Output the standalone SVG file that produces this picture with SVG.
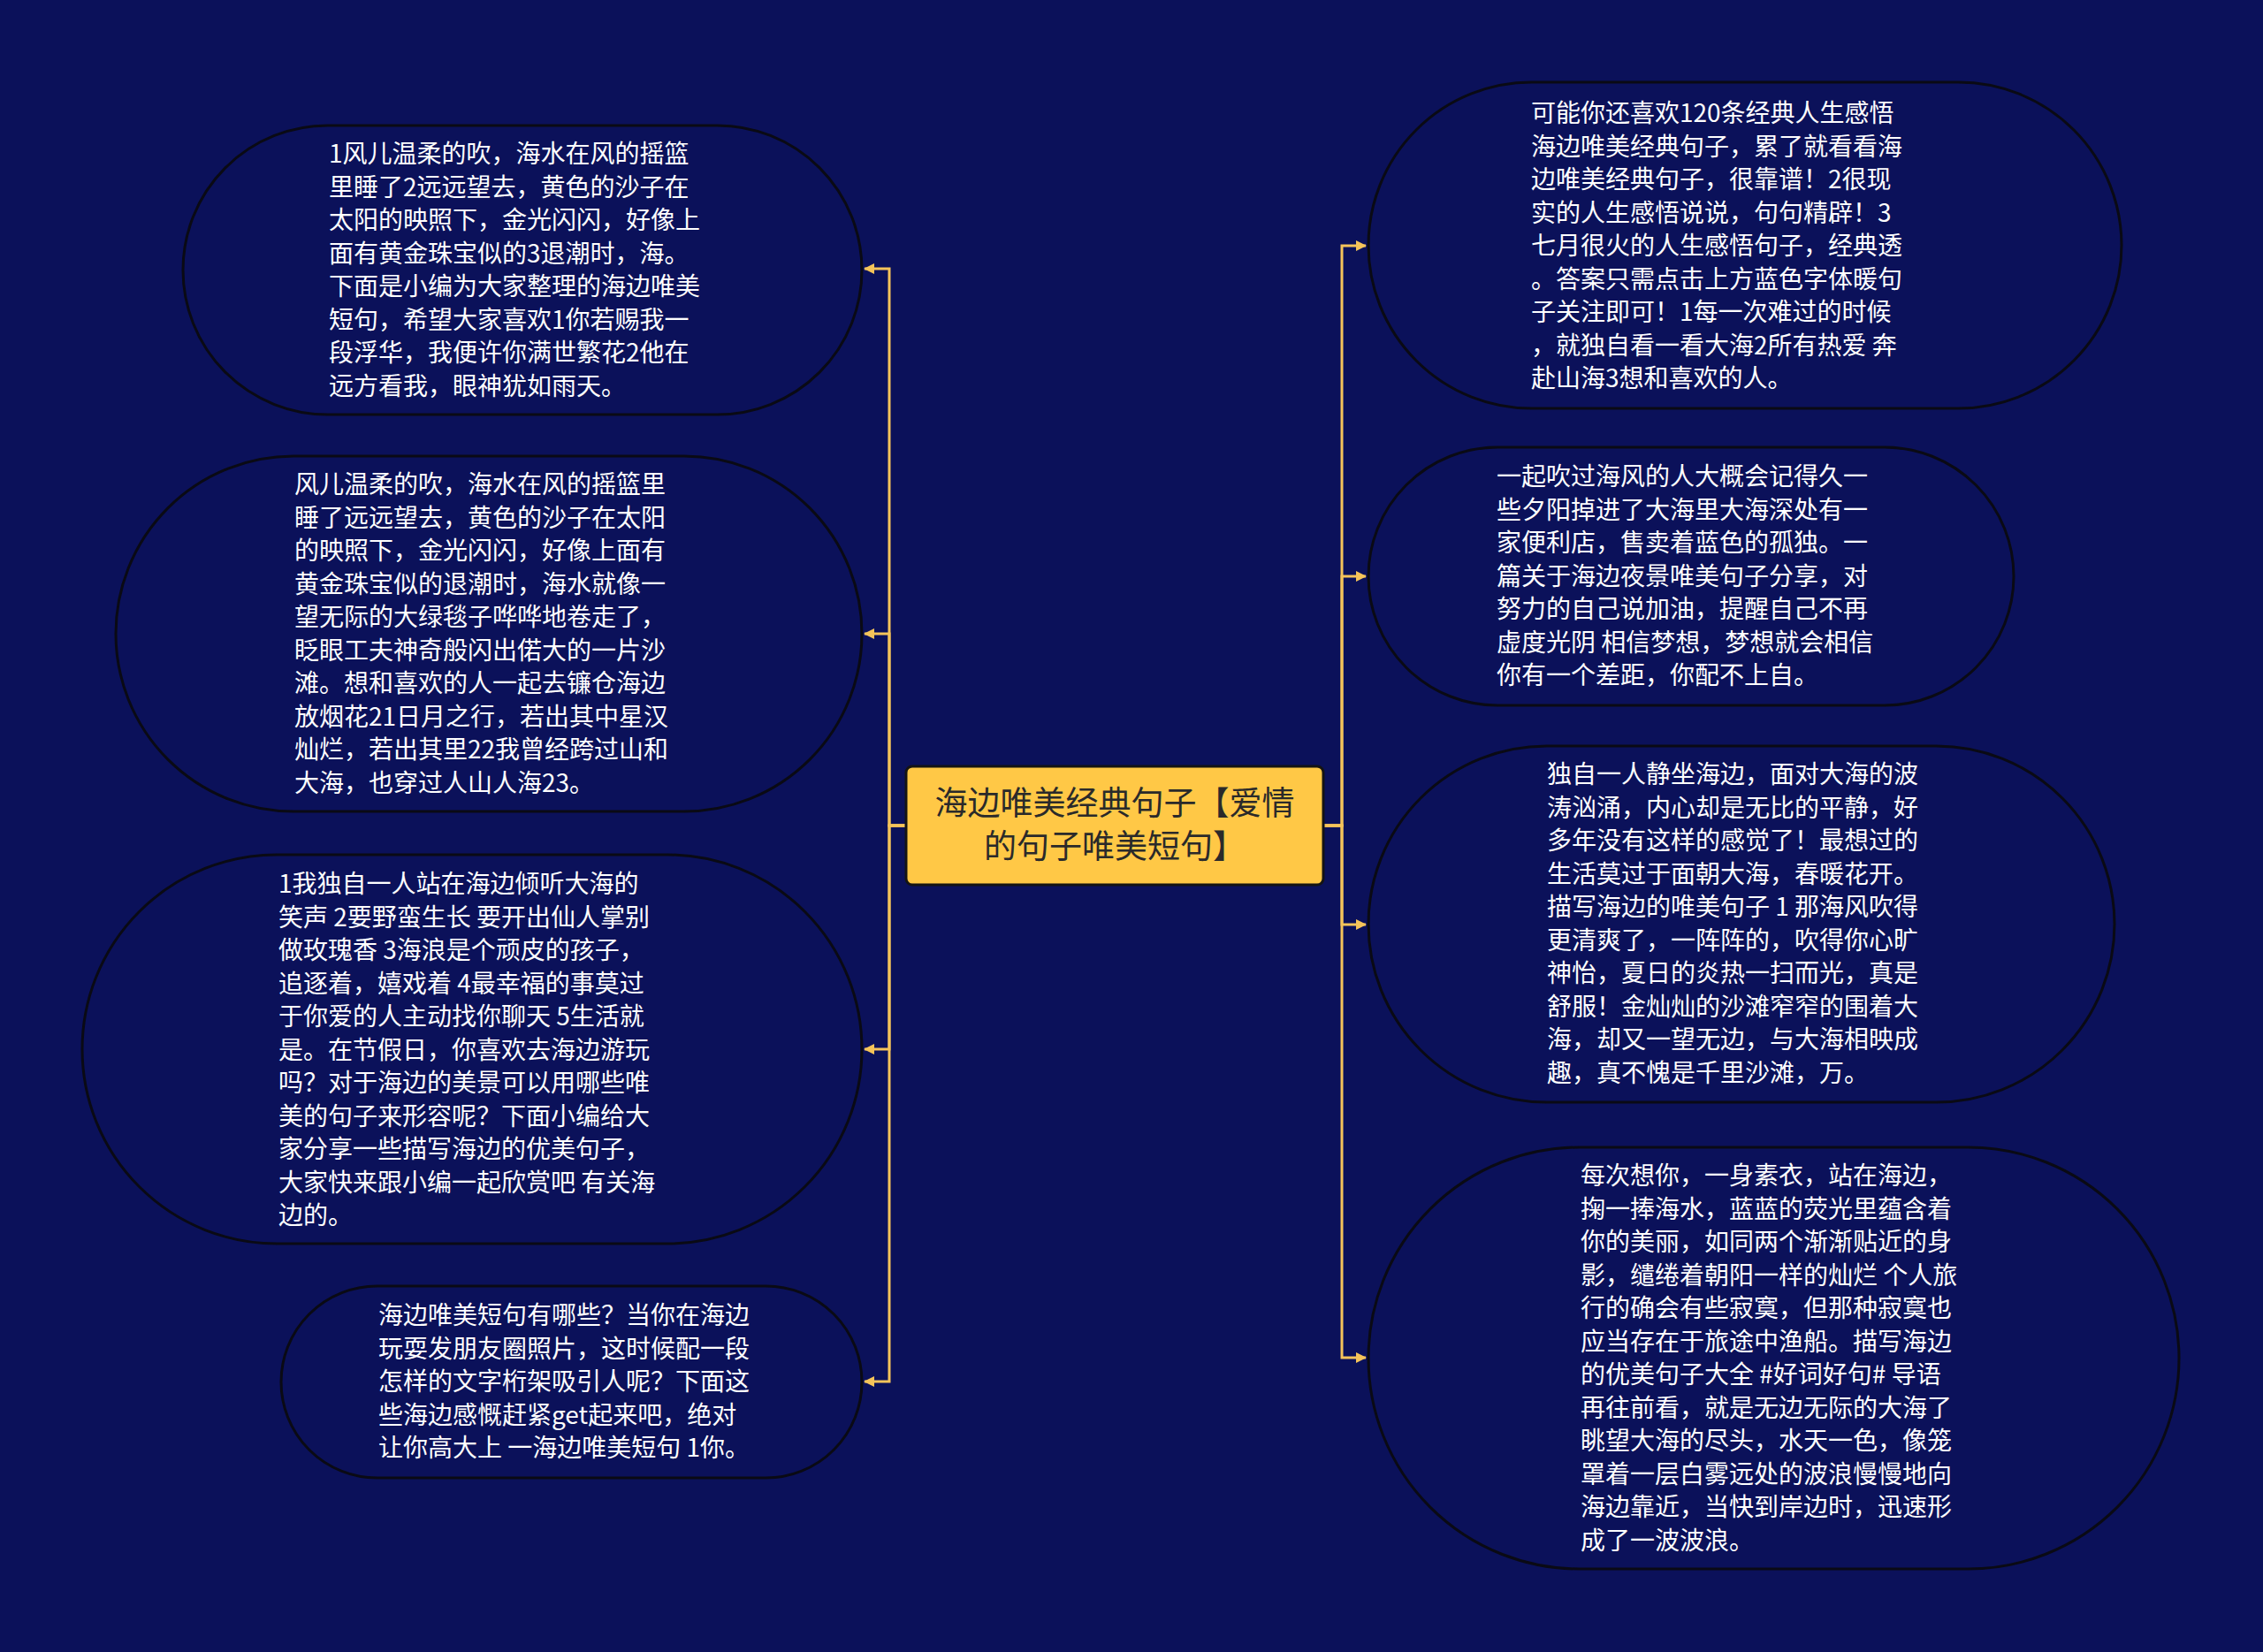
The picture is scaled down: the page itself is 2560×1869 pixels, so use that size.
<svg xmlns="http://www.w3.org/2000/svg" width="2560" height="1869" viewBox="0 0 2560 1869">
  <defs>
    <marker id="arr" markerUnits="userSpaceOnUse" markerWidth="14" markerHeight="14" refX="12" refY="7" orient="auto">
      <path d="M1,1 L13,7 L1,13 Z" fill="#F5C45A"/>
    </marker>
    <style>
      .node { fill: #0b115a; stroke: #0a0a14; stroke-width: 3; }
      .txt { fill: #ffffff; font-family: "Noto Sans CJK SC", "Noto Sans", sans-serif; font-size: 28px; }
      .conn { fill: none; stroke: #F5C45A; stroke-width: 3; marker-end: url(#arr); }
      .root { fill: #FFC846; stroke: #141414; stroke-width: 3; }
      .roottxt { fill: #2a2a2a; font-family: "Noto Sans CJK SC", "Noto Sans", sans-serif; font-size: 37px; text-anchor: middle; }
    </style>
  </defs>
  <rect x="0" y="0" width="2560" height="1869" fill="#0b115a"/>

  <g id="connectors">
    <path class="conn" d="M1025 934 H1006 V304 H978"/>
    <path class="conn" d="M1025 934 H1006 V717 H978"/>
    <path class="conn" d="M1025 934 H1006 V1187 H978"/>
    <path class="conn" d="M1025 934 H1006 V1563 H978"/>
    <path class="conn" d="M1497 934 H1518 V278 H1545"/>
    <path class="conn" d="M1497 934 H1518 V652 H1545"/>
    <path class="conn" d="M1497 934 H1518 V1046 H1545"/>
    <path class="conn" d="M1497 934 H1518 V1536 H1545"/>
  </g>

  <g id="root">
    <rect class="root" x="1025" y="867" width="472" height="134" rx="7"/>
    <text class="roottxt"><tspan x="1261" y="922">海边唯美经典句子【爱情</tspan><tspan x="1261" y="971">的句子唯美短句】</tspan></text>
  </g>

  <g id="node-l1">
    <rect class="node" x="207" y="142" width="768" height="327" rx="163.5"/>
    <text class="txt">
      <tspan x="372" y="184">1风儿温柔的吹，海水在风的摇篮</tspan>
      <tspan x="372" dy="37.5">里睡了2远远望去，黄色的沙子在</tspan>
      <tspan x="372" dy="37.5">太阳的映照下，金光闪闪，好像上</tspan>
      <tspan x="372" dy="37.5">面有黄金珠宝似的3退潮时，海。</tspan>
      <tspan x="372" dy="37.5">下面是小编为大家整理的海边唯美</tspan>
      <tspan x="372" dy="37.5">短句，希望大家喜欢1你若赐我一</tspan>
      <tspan x="372" dy="37.5">段浮华，我便许你满世繁花2他在</tspan>
      <tspan x="372" dy="37.5">远方看我，眼神犹如雨天。</tspan>
    </text>
  </g>

  <g id="node-l2">
    <rect class="node" x="131" y="516" width="844" height="402" rx="201"/>
    <text class="txt">
      <tspan x="333" y="558">风儿温柔的吹，海水在风的摇篮里</tspan>
      <tspan x="333" dy="37.5">睡了远远望去，黄色的沙子在太阳</tspan>
      <tspan x="333" dy="37.5">的映照下，金光闪闪，好像上面有</tspan>
      <tspan x="333" dy="37.5">黄金珠宝似的退潮时，海水就像一</tspan>
      <tspan x="333" dy="37.5">望无际的大绿毯子哗哗地卷走了，</tspan>
      <tspan x="333" dy="37.5">眨眼工夫神奇般闪出偌大的一片沙</tspan>
      <tspan x="333" dy="37.5">滩。想和喜欢的人一起去镰仓海边</tspan>
      <tspan x="333" dy="37.5">放烟花21日月之行，若出其中星汉</tspan>
      <tspan x="333" dy="37.5">灿烂，若出其里22我曾经跨过山和</tspan>
      <tspan x="333" dy="37.5">大海，也穿过人山人海23。</tspan>
    </text>
  </g>

  <g id="node-l3">
    <rect class="node" x="93" y="967" width="882" height="440" rx="220"/>
    <text class="txt">
      <tspan x="315" y="1010">1我独自一人站在海边倾听大海的</tspan>
      <tspan x="315" dy="37.5">笑声 2要野蛮生长 要开出仙人掌别</tspan>
      <tspan x="315" dy="37.5">做玫瑰香 3海浪是个顽皮的孩子，</tspan>
      <tspan x="315" dy="37.5">追逐着，嬉戏着 4最幸福的事莫过</tspan>
      <tspan x="315" dy="37.5">于你爱的人主动找你聊天 5生活就</tspan>
      <tspan x="315" dy="37.5">是。在节假日，你喜欢去海边游玩</tspan>
      <tspan x="315" dy="37.5">吗？对于海边的美景可以用哪些唯</tspan>
      <tspan x="315" dy="37.5">美的句子来形容呢？下面小编给大</tspan>
      <tspan x="315" dy="37.5">家分享一些描写海边的优美句子，</tspan>
      <tspan x="315" dy="37.5">大家快来跟小编一起欣赏吧 有关海</tspan>
      <tspan x="315" dy="37.5">边的。</tspan>
    </text>
  </g>

  <g id="node-l4">
    <rect class="node" x="318" y="1455" width="657" height="217" rx="108.5"/>
    <text class="txt">
      <tspan x="428" y="1498">海边唯美短句有哪些？当你在海边</tspan>
      <tspan x="428" dy="37.5">玩耍发朋友圈照片，这时候配一段</tspan>
      <tspan x="428" dy="37.5">怎样的文字桁架吸引人呢？下面这</tspan>
      <tspan x="428" dy="37.5">些海边感慨赶紧get起来吧，绝对</tspan>
      <tspan x="428" dy="37.5">让你高大上 一海边唯美短句 1你。</tspan>
    </text>
  </g>

  <g id="node-r1">
    <rect class="node" x="1548" y="93" width="852" height="369" rx="184.5"/>
    <text class="txt">
      <tspan x="1732" y="138">可能你还喜欢120条经典人生感悟</tspan>
      <tspan x="1732" dy="37.5">海边唯美经典句子，累了就看看海</tspan>
      <tspan x="1732" dy="37.5">边唯美经典句子，很靠谱！2很现</tspan>
      <tspan x="1732" dy="37.5">实的人生感悟说说，句句精辟！3</tspan>
      <tspan x="1732" dy="37.5">七月很火的人生感悟句子，经典透</tspan>
      <tspan x="1732" dy="37.5">。答案只需点击上方蓝色字体暖句</tspan>
      <tspan x="1732" dy="37.5">子关注即可！1每一次难过的时候</tspan>
      <tspan x="1732" dy="37.5">，就独自看一看大海2所有热爱 奔</tspan>
      <tspan x="1732" dy="37.5">赴山海3想和喜欢的人。</tspan>
    </text>
  </g>

  <g id="node-r2">
    <rect class="node" x="1548" y="506" width="730" height="292" rx="146"/>
    <text class="txt">
      <tspan x="1693" y="549">一起吹过海风的人大概会记得久一</tspan>
      <tspan x="1693" dy="37.5">些夕阳掉进了大海里大海深处有一</tspan>
      <tspan x="1693" dy="37.5">家便利店，售卖着蓝色的孤独。一</tspan>
      <tspan x="1693" dy="37.5">篇关于海边夜景唯美句子分享，对</tspan>
      <tspan x="1693" dy="37.5">努力的自己说加油，提醒自己不再</tspan>
      <tspan x="1693" dy="37.5">虚度光阴 相信梦想，梦想就会相信</tspan>
      <tspan x="1693" dy="37.5">你有一个差距，你配不上自。</tspan>
    </text>
  </g>

  <g id="node-r3">
    <rect class="node" x="1548" y="844" width="844" height="403" rx="201.5"/>
    <text class="txt">
      <tspan x="1750" y="886">独自一人静坐海边，面对大海的波</tspan>
      <tspan x="1750" dy="37.5">涛汹涌，内心却是无比的平静，好</tspan>
      <tspan x="1750" dy="37.5">多年没有这样的感觉了！最想过的</tspan>
      <tspan x="1750" dy="37.5">生活莫过于面朝大海，春暖花开。</tspan>
      <tspan x="1750" dy="37.5">描写海边的唯美句子 1 那海风吹得</tspan>
      <tspan x="1750" dy="37.5">更清爽了，一阵阵的，吹得你心旷</tspan>
      <tspan x="1750" dy="37.5">神怡，夏日的炎热一扫而光，真是</tspan>
      <tspan x="1750" dy="37.5">舒服！金灿灿的沙滩窄窄的围着大</tspan>
      <tspan x="1750" dy="37.5">海，却又一望无边，与大海相映成</tspan>
      <tspan x="1750" dy="37.5">趣，真不愧是千里沙滩，万。</tspan>
    </text>
  </g>

  <g id="node-r4">
    <rect class="node" x="1548" y="1298" width="917" height="477" rx="238.5"/>
    <text class="txt">
      <tspan x="1788" y="1340">每次想你，一身素衣，站在海边，</tspan>
      <tspan x="1788" dy="37.5">掬一捧海水，蓝蓝的荧光里蕴含着</tspan>
      <tspan x="1788" dy="37.5">你的美丽，如同两个渐渐贴近的身</tspan>
      <tspan x="1788" dy="37.5">影，缱绻着朝阳一样的灿烂 个人旅</tspan>
      <tspan x="1788" dy="37.5">行的确会有些寂寞，但那种寂寞也</tspan>
      <tspan x="1788" dy="37.5">应当存在于旅途中渔船。描写海边</tspan>
      <tspan x="1788" dy="37.5">的优美句子大全 #好词好句# 导语</tspan>
      <tspan x="1788" dy="37.5">再往前看，就是无边无际的大海了</tspan>
      <tspan x="1788" dy="37.5">眺望大海的尽头，水天一色，像笼</tspan>
      <tspan x="1788" dy="37.5">罩着一层白雾远处的波浪慢慢地向</tspan>
      <tspan x="1788" dy="37.5">海边靠近，当快到岸边时，迅速形</tspan>
      <tspan x="1788" dy="37.5">成了一波波浪。</tspan>
    </text>
  </g>
</svg>
